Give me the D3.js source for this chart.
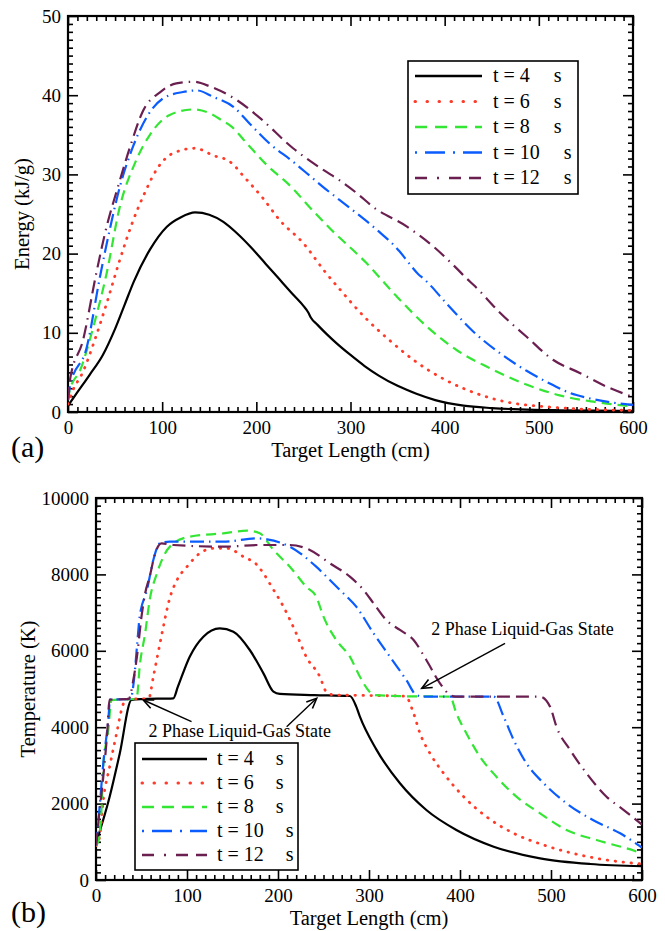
<!DOCTYPE html>
<html><head><meta charset="utf-8">
<script src="https://cdn.jsdelivr.net/npm/d3@7"></script>
<style>
body{margin:0;background:#fff}
text{font-family:"Liberation Serif","Times New Roman",serif;fill:#000}
</style>
</head><body><svg id="c" width="665" height="931"></svg>
<script>
// ---------- data ----------
const seriesLabels = ["t = 4", "t = 6", "t = 8", "t = 10", "t = 12"];
const xTicks = [0, 100, 200, 300, 400, 500, 600];
const energyTicks = [0, 10, 20, 30, 40, 50];
const tempTicks = [0, 2000, 4000, 6000, 8000, 10000];

// Panel (a): Energy (kJ/g) vs Target Length (cm)
const energyT4 = [[0,0.8],[10,2.5],[23,4.7],[37,7.2],[50,10.5],[60,13.5],[70,16.5],[87,20.5],[105,23.4],[120,24.6],[135,25.2],[150,24.9],[165,24],[180,22.5],[195,20.7],[210,18.7],[222,17.1],[240,14.7],[250,13.4],[255,12.6],[258,11.9],[265,11.0],[275,9.8],[285,8.7],[300,7.2],[315,5.8],[330,4.6],[350,3.3],[370,2.3],[390,1.5],[420,0.8],[450,0.5],[480,0.33],[520,0.22],[560,0.17],[600,0.15]];
const energyT6 = [[0,1.0],[4,2.4],[16,5.1],[29,9.3],[41,13.7],[55,19.2],[68,23.8],[82,27.8],[94,30.6],[112,32.7],[135,33.3],[154,32.4],[172,31.6],[176,31.2],[184,30.1],[207,27.0],[225,24.2],[250,21.3],[273,17.7],[290,15.3],[314,12.1],[342,9.0],[370,6.3],[400,4.1],[437,2.2],[473,1.1],[500,0.75],[540,0.4],[600,0.2]];
const energyT8 = [[0,1.5],[2,2.8],[13,5.3],[27,10.8],[41,17.5],[55,25.9],[71,31.4],[87,35.0],[108,37.5],[133,38.2],[151,37.7],[165,36.7],[172,36.2],[190,33.9],[211,31.2],[239,28.2],[254,26.2],[278,23.2],[317,18.8],[349,14.6],[381,10.8],[413,7.8],[445,5.7],[484,3.6],[522,2.1],[558,1.3],[600,0.7]];
const energyT10 = [[0,1.5],[2,3.2],[20,8.2],[34,17.1],[45,23.4],[55,28.4],[69,33.5],[84,37.3],[101,39.6],[122,40.4],[137,40.6],[154,39.8],[176,38.5],[193,36.4],[214,33.9],[239,31.6],[252,30.3],[271,28.4],[300,25.7],[328,23.0],[352,20.3],[362,18.8],[372,17.4],[378,16.8],[402,13.7],[430,10.2],[459,7.4],[487,5.2],[515,3.4],[533,2.4],[551,1.8],[572,1.3],[600,0.9]];
const energyT12 = [[0,1.5],[2,4.0],[16,9.1],[30,17.5],[41,23.4],[53,28.4],[66,33.5],[80,38.1],[98,40.4],[115,41.5],[133,41.7],[151,41.1],[179,39.4],[204,37.1],[239,33.3],[257,31.7],[272,30.5],[289,29.2],[307,27.6],[324,25.9],[360,23.4],[388,20.9],[413,18.1],[423,16.9],[432,15.9],[459,12.5],[487,9.5],[515,6.6],[544,4.9],[572,3.2],[600,1.9]];

// Panel (b): Temperature (K) vs Target Length (cm)
const tempT4 = [[0,960],[15,2180],[26,3300],[39,4712],[50,4735],[85,4756],[90,5060],[103,5846],[118,6370],[136,6588],[151,6500],[169,6021],[184,5410],[195,4930],[202,4870],[240,4840],[279,4817],[286,4540],[290,4276],[308,3420],[334,2531],[363,1832],[396,1309],[437,872],[488,568],[543,419],[600,360]];
const tempT6 = [[0,900],[4,1134],[8,2094],[15,2966],[23,3882],[28,4450],[33,4735],[55,4745],[58,4756],[63,5322],[68.5,5977],[74,6632],[81,7374],[89,7853],[100,8202],[114,8552],[129,8682],[144,8682],[162,8464],[177,8246],[184,8028],[193,7678],[206,7155],[220,6457],[231,5846],[246,5322],[253,4930],[262,4843],[300,4830],[340,4810],[349,4363],[356,3840],[367,3316],[382,2793],[404,2181],[429,1657],[459,1222],[492,916],[524,698],[561,524],[600,420]];
const tempT8 = [[0,900],[3,1047],[6,1832],[8,2966],[13.5,3927],[17,4710],[43,4740],[45,4800],[48,5584],[54,6457],[59,7330],[67,8028],[74,8464],[85,8813],[103,8988],[140,9075],[166,9145],[180,9075],[195,8639],[213,8202],[231,7678],[242,7416],[250,6893],[264,6283],[279,5846],[290,5322],[299,4974],[305,4843],[340,4810],[389,4800],[396,4363],[407,3840],[422,3228],[440,2705],[462,2181],[488,1745],[517,1309],[550,1047],[583,829],[600,700]];
const tempT10 = [[0,900],[4,1919],[8,3055],[13.5,4188],[15.5,4720],[38,4740],[42,5300],[45,6108],[48,6893],[56,7592],[63,8377],[70,8813],[81,8857],[140,8857],[177,8944],[188,8918],[213,8726],[242,8202],[257,7853],[268,7592],[286,7155],[305,6457],[323,5846],[341,5236],[352,4843],[360,4800],[437,4800],[448,4276],[459,3665],[473,3055],[492,2531],[517,2008],[546,1571],[576,1222],[600,850]];
const tempT12 = [[0,900],[4,1830],[8,2700],[12,3750],[15,4720],[36,4740],[41,5236],[45,5846],[50,6893],[54,7505],[59,7940],[65,8552],[72,8813],[85,8770],[140,8726],[180,8770],[213,8770],[235,8639],[257,8290],[279,7940],[294,7592],[305,7243],[319,6806],[334,6545],[349,6283],[363,5759],[378,5149],[389,4843],[395,4800],[488,4800],[499,4537],[506,4014],[521,3403],[539,2793],[561,2181],[580,1832],[600,1450]];

// annotations (data coordinates)
const annotText = "2 Phase Liquid-Gas State";
const annotLeft = {text:[158,3743], arrows:[[[105,4145],[52,4712]],[[209.5,4014],[242.5,4756]]]};
const annotRight = {text:[468.7,6414], arrows:[[[449.5,6196],[358,5018]]]};

// ---------- styles ----------
const colors = ["#000000","#ff3b2a","#33e633","#0a5cff","#6a1f50"];
const dashes = [null,"0.5,7.5","10,6","14,5,1.5,5","13,6,13,6,1.5,6"];
const legendDashes = [null,"0.5,11.5","12,8","2,8,20,8","12,10,2,10,12,8"];
const caps = ["butt","round","butt","butt","butt"];

const svg = d3.select("#c");

function panel(opts){
  const {x0,x1,y0,y1,yMax,yTicks,yMinorStep,series,yLabel,tag,tagY,yLabelX,legend,annots} = opts;
  const x = d3.scaleLinear().domain([0,600]).range([x0,x1]);
  const y = d3.scaleLinear().domain([0,yMax]).range([y1,y0]);
  const g = svg.append("g");
  const clipId = "clip"+tag.replace(/[()]/g,"");
  svg.append("clipPath").attr("id",clipId).append("rect")
    .attr("x",x0).attr("y",y0).attr("width",x1-x0).attr("height",y1-y0);

  // minor ticks
  const xMinor = d3.range(0,601,10).filter(v=>v%100!==0);
  const yMinor = d3.range(0,yMax+1e-9,yMinorStep).filter(v=>!yTicks.includes(v));
  const mk = (ax, tr) => g.append("g").attr("transform",tr).call(ax).call(s=>s.select(".domain").remove())
      .call(s=>s.selectAll("line").attr("stroke","#000").attr("stroke-width",1.6));
  mk(d3.axisBottom(x).tickValues(xMinor).tickSize(-5).tickFormat(""), `translate(0,${y1})`);
  mk(d3.axisTop(x).tickValues(xMinor).tickSize(-5).tickFormat(""), `translate(0,${y0})`);
  mk(d3.axisLeft(y).tickValues(yMinor).tickSize(-5).tickFormat(""), `translate(${x0},0)`);
  mk(d3.axisRight(y).tickValues(yMinor).tickSize(-5).tickFormat(""), `translate(${x1},0)`);
  // major ticks
  mk(d3.axisBottom(x).tickValues(xTicks).tickSize(-10).tickPadding(9).tickFormat(d3.format("d")), `translate(0,${y1})`);
  mk(d3.axisTop(x).tickValues(xTicks).tickSize(-10).tickFormat(""), `translate(0,${y0})`);
  mk(d3.axisLeft(y).tickValues(yTicks).tickSize(-10).tickPadding(7).tickFormat(d3.format("d")), `translate(${x0},0)`);
  mk(d3.axisRight(y).tickValues(yTicks).tickSize(-10).tickFormat(""), `translate(${x1},0)`);
  g.selectAll("g").attr("font-family",null);
  g.selectAll(".tick text").attr("font-size",19).attr("fill","#000");

  // frame
  g.append("rect").attr("x",x0).attr("y",y0).attr("width",x1-x0).attr("height",y1-y0)
    .attr("fill","none").attr("stroke","#000").attr("stroke-width",2.2);

  // series
  const line = d3.line().x(d=>x(d[0])).y(d=>y(d[1])).curve(d3.curveMonotoneX);
  const lg = svg.append("g").attr("clip-path",`url(#${clipId})`);
  series.forEach((s,i)=>{
    lg.append("path").attr("d",line(s)).attr("fill","none").attr("stroke",colors[i])
      .attr("stroke-width", i===1?2.8:2.2).attr("stroke-dasharray",dashes[i])
      .attr("stroke-linecap",caps[i]).attr("stroke-linejoin","round");
  });

  // axis titles
  svg.append("text").attr("x",(x0+x1)/2).attr("y",y1+45).attr("text-anchor","middle")
    .attr("font-size",20.5).text("Target Length (cm)");
  svg.append("text").attr("transform",`translate(${yLabelX},${(y0+y1)/2}) rotate(-90)`)
    .attr("text-anchor","middle").attr("font-size",20.5).text(yLabel);
  svg.append("text").attr("x",11).attr("y",tagY).attr("font-size",30).text(tag);

  // legend
  const L = legend;
  svg.append("rect").attr("x",L.x).attr("y",L.y).attr("width",L.w).attr("height",L.h)
    .attr("fill","#fff").attr("stroke","#000").attr("stroke-width",1.6);
  seriesLabels.forEach((lab,i)=>{
    const yy = L.y + L.first + i*L.step;
    svg.append("line").attr("x1",L.x+L.lx0).attr("x2",L.x+L.lx1).attr("y1",yy).attr("y2",yy)
      .attr("stroke",colors[i]).attr("stroke-width", i===1?3:2.6)
      .attr("stroke-dasharray",legendDashes[i]).attr("stroke-linecap",caps[i]);
    const t = svg.append("text").attr("x",L.x+L.tx).attr("y",yy+6).attr("font-size",20).text(lab);
    const w = t.node().getComputedTextLength();
    svg.append("text").attr("x",L.x+L.tx+w+L.sgap).attr("y",yy+6).attr("font-size",20).text("s");
  });

  // annotations
  (annots||[]).forEach(a=>{
    svg.append("text").attr("x",x(a.text[0])).attr("y",y(a.text[1])).attr("text-anchor","middle")
      .attr("font-size",18).text(annotText);
    a.arrows.forEach(([p,q])=>{
      const X0=x(p[0]),Y0=y(p[1]),X1=x(q[0]),Y1=y(q[1]);
      svg.append("line").attr("x1",X0).attr("y1",Y0).attr("x2",X1).attr("y2",Y1)
        .attr("stroke","#000").attr("stroke-width",1.4);
      const ang = Math.atan2(Y0-Y1,X0-X1), hl=11, ha=0.42;
      const pts = [[X1+hl*Math.cos(ang+ha),Y1+hl*Math.sin(ang+ha)],[X1,Y1],[X1+hl*Math.cos(ang-ha),Y1+hl*Math.sin(ang-ha)]];
      svg.append("path").attr("d",d3.line()(pts)).attr("fill","none").attr("stroke","#000").attr("stroke-width",1.6);
    });
  });
}

panel({x0:68,x1:633,y0:16,y1:412,yMax:50,yTicks:energyTicks,yMinorStep:1,
  series:[energyT4,energyT6,energyT8,energyT10,energyT12],
  yLabel:"Energy (kJ/g)",tag:"(a)",tagY:457,yLabelX:29,
  legend:{x:408,y:61,w:170,h:133,first:15,step:25.5,lx0:7,lx1:74,tx:85,sgap:24}
});
panel({x0:96,x1:642,y0:498,y1:880,yMax:10000,yTicks:tempTicks,yMinorStep:200,
  series:[tempT4,tempT6,tempT8,tempT10,tempT12],
  yLabel:"Temperature (K)",tag:"(b)",tagY:922,yLabelX:35,
  legend:{x:135,y:743,w:163,h:127,first:16,step:24,lx0:7,lx1:72,tx:82,sgap:22},
  annots:[annotLeft,annotRight]
});
</script>
</body></html>
